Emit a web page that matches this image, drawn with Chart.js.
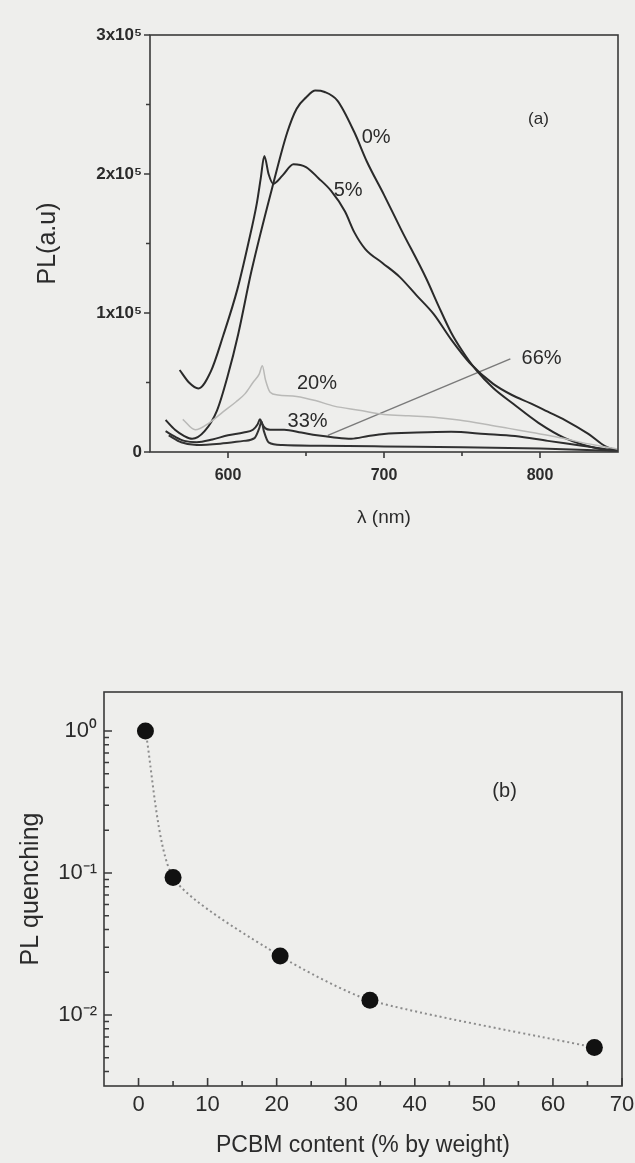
<!DOCTYPE html>
<html>
<head>
<meta charset="utf-8">
<script src="https://cdn.jsdelivr.net/npm/chart.js@4.4.1/dist/chart.umd.min.js"></script>
<style>
  html, body { margin: 0; padding: 0; background: #eeeeec; }
  body { width: 635px; height: 1163px; position: relative; overflow: hidden; }
  canvas { position: absolute; left: 0; }
  #spec { top: 0; }
  #quench { top: 640px; }
</style>
</head>
<body>
<canvas id="spec" width="635" height="560"></canvas>
<canvas id="quench" width="635" height="523"></canvas>
<script>
// ---------- (a) PL spectra: wavelength (nm) and PL intensity (a.u.) ----------
const lambda0 = [560, 566, 572, 577, 585, 593, 600, 606.5, 615, 629, 638, 644, 650, 656, 662, 670, 681, 689, 700, 711, 727, 735, 743, 750, 759, 770, 783, 799, 816, 837, 850];
const pl0     = [23000, 16000, 11500, 9500, 15000, 30000, 55500, 84600, 130000, 193000, 230000, 247000, 255000, 260000, 259000, 253000, 230000, 209000, 185000, 160000, 125000, 105000, 86000, 73000, 59000, 46000, 34500, 21000, 10000, 2500, 500];

const lambda5 = [569, 575, 581, 589, 597, 606, 613, 618.5, 621, 623.3, 626, 629, 635, 642, 650, 658, 666, 675, 681, 688, 699, 710, 721, 732, 743, 755, 770, 782, 794, 805, 816, 831, 842, 850];
const pl5     = [59000, 50000, 45700, 58000, 84000, 117000, 150000, 179000, 197000, 213000, 200000, 193000, 199000, 207000, 205000, 197000, 188000, 173000, 158000, 146000, 136000, 126000, 112500, 99000, 81000, 64000, 49000, 41000, 35000, 29000, 23000, 13000, 4000, 1000];

const lambda20 = [571, 579, 588, 597, 605, 611, 616, 620, 622, 624, 627, 632, 644, 656, 668, 684, 700, 716, 732, 748, 765, 780, 795, 810, 822, 835, 850];
const pl20     = [23500, 16000, 21000, 29000, 36000, 42000, 50000, 56000, 62000, 52000, 43000, 41000, 40000, 37000, 33000, 30000, 27000, 26000, 25000, 23000, 20000, 17000, 14000, 11000, 8000, 5000, 2000];

const lambda33 = [560, 566, 572, 580, 590, 600, 610, 616, 619, 620.5, 622, 624, 627, 636, 647, 657, 668, 679, 690, 700, 721, 743, 765, 784, 805, 827, 842, 850];
const pl33     = [15000, 11000, 8000, 7000, 9000, 12000, 14000, 16000, 20000, 23500, 20000, 17000, 16000, 16000, 14000, 12000, 10500, 9600, 11500, 13000, 14000, 14500, 13000, 11500, 8000, 4500, 2000, 1000];

const lambda66 = [562, 570, 580, 595, 610, 617, 620, 621.5, 623, 626, 635, 660, 700, 750, 800, 830, 850];
const pl66     = [12000, 7000, 5000, 6000, 8000, 10000, 17000, 22000, 15000, 7000, 5000, 4500, 4000, 3500, 2500, 1500, 500];

// leader line from the "66%" label
const pointerLambda = [664, 781];
const pointerPL     = [12000, 67000];

const specXTicks  = [600, 700, 800];
const specXMinor  = [650, 750];
const specYTicks  = [0, 100000, 200000, 300000];
const specYLabels = ['0', '1x10\u2075', '2x10\u2075', '3x10\u2075'];
const specYMinor  = [50000, 150000, 250000];

// ---------- (b) PL quenching vs PCBM content ----------
const pcbm   = [1, 5, 20.5, 33.5, 66];
const quench = [1.0, 0.093, 0.026, 0.0127, 0.0059];

const pcbmTicks     = [0, 10, 20, 30, 40, 50, 60, 70];
const pcbmMinor     = [5, 15, 25, 35, 45, 55, 65];
const quenchTicks   = [0.01, 0.1, 1];
const quenchLabels  = ['10\u207B\u00B2', '10\u207B\u00B9', '10\u2070'];

// ---------- helpers ----------
const FONT = "'Liberation Sans', Arial, Helvetica, sans-serif";
const INK = '#2b2b2b';
const pts = (xs, ys) => xs.map((x, i) => ({ x, y: ys[i] }));

// log-scale minor tick positions (2..9 per decade)
const quenchMinor = [];
for (let e = -3; e <= 0; e++) {
  for (let m = 2; m <= 9; m++) quenchMinor.push(m * Math.pow(10, e));
}

// Box frame plus major/minor tick marks drawn from the chart's scales
function makeFrame(cfg) {
  return {
    id: 'frame',
    afterDraw(chart) {
      const { ctx, chartArea: a, scales } = chart;
      const xs = scales.x, ys = scales.y;
      const dir = cfg.inward ? -1 : 1;
      ctx.save();
      ctx.strokeStyle = cfg.color;
      ctx.lineWidth = cfg.width;
      ctx.strokeRect(a.left, a.top, a.right - a.left, a.bottom - a.top);
      ctx.beginPath();
      const xMark = (v, len) => {
        if (v < xs.min || v > xs.max) return;
        const p = xs.getPixelForValue(v);
        ctx.moveTo(p, a.bottom);
        ctx.lineTo(p, a.bottom + dir * len);
      };
      const yMark = (v, len) => {
        if (v < ys.min || v > ys.max) return;
        const p = ys.getPixelForValue(v);
        ctx.moveTo(a.left, p);
        ctx.lineTo(a.left - dir * len, p);
      };
      cfg.xMajor.forEach(v => xMark(v, cfg.major));
      cfg.xMinor.forEach(v => xMark(v, cfg.minor));
      cfg.yMajor.forEach(v => yMark(v, cfg.major));
      cfg.yMinor.forEach(v => yMark(v, cfg.minor));
      ctx.stroke();
      ctx.restore();
    }
  };
}

// Text labels placed in data coordinates
function makeNotes(items) {
  return {
    id: 'notes',
    afterDatasetsDraw(chart) {
      const { ctx, scales } = chart;
      ctx.save();
      ctx.textAlign = 'center';
      ctx.textBaseline = 'middle';
      items.forEach(n => {
        ctx.font = n.font;
        ctx.fillStyle = INK;
        ctx.fillText(n.text, scales.x.getPixelForValue(n.x), scales.y.getPixelForValue(n.y));
      });
      ctx.restore();
    }
  };
}

const curve = (data, color, width) => ({
  data, borderColor: color, borderWidth: width, pointRadius: 0,
  cubicInterpolationMode: 'monotone', fill: false
});

// ---------- chart (a) ----------
new Chart(document.getElementById('spec'), {
  type: 'line',
  data: {
    datasets: [
      curve(pts(lambda20, pl20), '#b9b9b7', 1.5),
      curve(pts(lambda66, pl66), '#333333', 2),
      curve(pts(lambda33, pl33), '#2e2e2e', 2),
      curve(pts(lambda5, pl5), '#2a2a2a', 2),
      curve(pts(lambda0, pl0), '#2a2a2a', 2),
      { data: pts(pointerLambda, pointerPL), borderColor: '#7a7a7a', borderWidth: 1.5, pointRadius: 0, tension: 0 }
    ]
  },
  options: {
    responsive: false,
    animation: false,
    devicePixelRatio: 1,
    layout: { padding: { top: 35, right: 17, left: 0, bottom: 0 } },
    plugins: { legend: { display: false }, tooltip: { enabled: false } },
    scales: {
      x: {
        type: 'linear', min: 550, max: 850,
        grid: { display: false, drawTicks: false },
        border: { display: false },
        afterBuildTicks: s => { s.ticks = specXTicks.map(v => ({ value: v })); },
        afterFit: s => { s.height = 108; s.paddingLeft = 0; s.paddingRight = 0; },
        ticks: { color: INK, font: { family: FONT, size: 16, weight: 'bold' }, padding: 14, maxRotation: 0 },
        title: { display: true, text: '\u03BB (nm)', color: INK, font: { family: FONT, size: 19 }, padding: { top: 0, bottom: 31 } }
      },
      y: {
        type: 'linear', min: 0, max: 300000,
        grid: { display: false, drawTicks: false },
        border: { display: false },
        afterBuildTicks: s => { s.ticks = specYTicks.map(v => ({ value: v })); },
        afterFit: s => { s.width = 150; s.paddingTop = 0; s.paddingBottom = 0; },
        ticks: {
          color: INK, font: { family: FONT, size: 17, weight: 'bold' }, padding: 8,
          callback: v => specYLabels[specYTicks.indexOf(v)]
        },
        title: { display: true, text: 'PL(a.u)', color: INK, font: { family: FONT, size: 25 }, padding: { top: 33, bottom: 0 } }
      }
    }
  },
  plugins: [
    makeFrame({ color: '#3a3a3a', width: 1.6, inward: false, major: 6, minor: 4,
      xMajor: specXTicks, xMinor: specXMinor, yMajor: specYTicks, yMinor: specYMinor }),
    makeNotes([
      { text: '0%',  x: 695, y: 226000, font: `20px ${FONT}` },
      { text: '5%',  x: 677, y: 188000, font: `20px ${FONT}` },
      { text: '20%', x: 657, y: 49000,  font: `20px ${FONT}` },
      { text: '33%', x: 651, y: 22000,  font: `20px ${FONT}` },
      { text: '66%', x: 801, y: 67000,  font: `20px ${FONT}` },
      { text: '(a)', x: 799, y: 239000, font: `17px ${FONT}` }
    ])
  ]
});

// ---------- chart (b) ----------
new Chart(document.getElementById('quench'), {
  type: 'line',
  data: {
    datasets: [{
      data: pts(pcbm, quench),
      borderColor: '#8c8c8c', borderWidth: 2, borderDash: [2, 3],
      tension: 0.22, fill: false,
      pointRadius: 8.5, pointBackgroundColor: '#111111', pointBorderColor: '#111111', pointBorderWidth: 0
    }]
  },
  options: {
    responsive: false,
    animation: false,
    devicePixelRatio: 1,
    layout: { padding: { top: 52, right: 13, left: 0, bottom: 0 } },
    plugins: { legend: { display: false }, tooltip: { enabled: false } },
    scales: {
      x: {
        type: 'linear', min: -5, max: 70,
        grid: { display: false, drawTicks: false },
        border: { display: false },
        afterBuildTicks: s => { s.ticks = pcbmTicks.map(v => ({ value: v })); },
        afterFit: s => { s.height = 77; s.paddingLeft = 0; s.paddingRight = 0; },
        ticks: { color: INK, font: { family: FONT, size: 22 }, padding: 6, maxRotation: 0 },
        title: { display: true, text: 'PCBM content (% by weight)', color: INK, font: { family: FONT, size: 23 }, padding: { top: 0, bottom: 4 } }
      },
      y: {
        type: 'logarithmic', min: 0.00316, max: 1.88,
        grid: { display: false, drawTicks: false },
        border: { display: false },
        afterBuildTicks: s => { s.ticks = quenchTicks.map(v => ({ value: v })); },
        afterFit: s => { s.width = 104; s.paddingTop = 0; s.paddingBottom = 0; },
        ticks: {
          color: INK, font: { family: FONT, size: 22 }, padding: 7,
          callback: v => quenchLabels[quenchTicks.indexOf(v)] ?? ''
        },
        title: { display: true, text: 'PL quenching', color: INK, font: { family: FONT, size: 25 }, padding: { top: 16, bottom: 0 } }
      }
    }
  },
  plugins: [
    makeFrame({ color: '#3a3a3a', width: 1.6, inward: true, major: 8, minor: 5,
      xMajor: pcbmTicks, xMinor: pcbmMinor, yMajor: quenchTicks, yMinor: quenchMinor }),
    makeNotes([
      { text: '(b)', x: 53, y: 0.374, font: `20px ${FONT}` }
    ])
  ]
});
</script>
</body>
</html>
